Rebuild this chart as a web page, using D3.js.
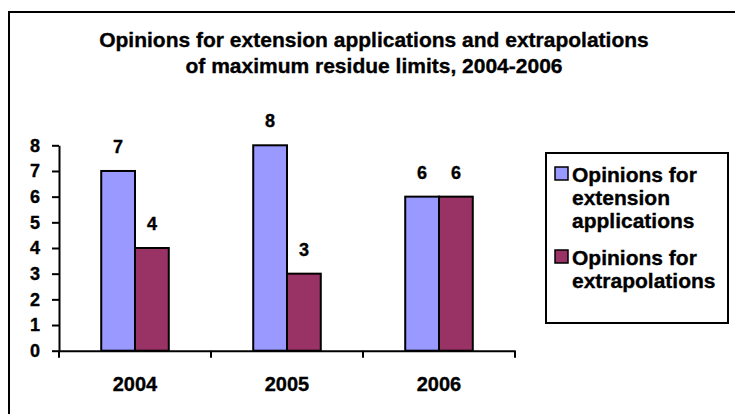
<!DOCTYPE html>
<html>
<head>
<meta charset="utf-8">
<script src="https://cdn.jsdelivr.net/npm/d3@7"></script>
<style>
  html, body { margin: 0; padding: 0; background: #fff; }
  svg { display: block; }
  text { font-family: "Liberation Sans", Arial, sans-serif; font-weight: bold; fill: #000; stroke: #000; stroke-width: 0.35px; }
</style>
</head>
<body>
<svg id="chart" width="735" height="414"></svg>
<script>
const categories = ["2004", "2005", "2006"];
const seriesNames = ["Opinions for extension applications", "Opinions for extrapolations"];
const extensionValues = [7, 8, 6];
const extrapolationValues = [4, 3, 6];
const yTicks = [0, 1, 2, 3, 4, 5, 6, 7, 8];
const titleLines = ["Opinions for extension applications and extrapolations", "of maximum residue limits, 2004-2006"];
const legendLines = [["Opinions for", "extension", "applications"], ["Opinions for", "extrapolations"]];
const colors = ["#9999FF", "#993366"];

const seriesValues = [extensionValues, extrapolationValues];
const data = categories.map((c, i) => ({ cat: c, vals: seriesValues.map((s, j) => ({ key: j, v: s[i] })) }));

const svg = d3.select("#chart");

// outer chart frame
svg.append("rect").attr("x", 9).attr("y", 12).attr("width", 800).attr("height", 500)
  .attr("fill", "#fff").attr("stroke", "#000").attr("stroke-width", 2);

// title
svg.append("g").selectAll("text").data(titleLines).join("text")
  .attr("x", 374).attr("y", (d, i) => 47 + i * 26)
  .attr("text-anchor", "middle").style("font-size", "21px")
  .text(d => d);

const x0 = 59, x1 = 515, yBase = 350.7, yTop = 145.3;
const x = d3.scaleBand().domain(categories).range([x0, x1]).paddingInner(0).paddingOuter(0);
const xs = d3.scaleBand().domain([0, 1]).range([0, x.bandwidth()]).paddingInner(0).paddingOuter(1.25);
const y = d3.scaleLinear().domain([0, 8]).range([yBase, yTop]);

// bars
const groups = svg.append("g").selectAll("g").data(data).join("g")
  .attr("transform", d => `translate(${x(d.cat)},0)`);
groups.selectAll("rect").data(d => d.vals).join("rect")
  .attr("x", d => xs(d.key)).attr("width", xs.bandwidth())
  .attr("y", d => y(d.v)).attr("height", d => y(0) - y(d.v))
  .attr("fill", d => colors[d.key]).attr("stroke", "#000").attr("stroke-width", 2);
groups.selectAll("text").data(d => d.vals).join("text")
  .attr("x", d => xs(d.key) + xs.bandwidth() / 2).attr("y", d => y(d.v) - 18)
  .attr("text-anchor", "middle").style("font-size", "18px")
  .text(d => d.v);

// y axis
const yAxis = svg.append("g").attr("transform", `translate(${x0},0)`)
  .call(d3.axisLeft(y).tickValues(yTicks).tickFormat(d3.format("d")).tickSizeOuter(0).tickSizeInner(7).tickPadding(12));
yAxis.selectAll("path, line").attr("stroke", "#000").attr("stroke-width", 2);
yAxis.selectAll("text").style("font-size", "18px").style("font-family", "Liberation Sans, Arial, sans-serif").attr("font-weight", "bold");

// x axis
const xAxis = svg.append("g").attr("transform", `translate(0,${yBase})`)
  .call(d3.axisBottom(x).tickSize(0).tickPadding(26).tickSizeOuter(0));
xAxis.select("path").attr("stroke", "#000").attr("stroke-width", 2);
xAxis.selectAll("text").style("font-size", "20px").style("font-family", "Liberation Sans, Arial, sans-serif").attr("font-weight", "bold");
// category boundary ticks
const bounds = categories.map(c => x(c)).concat([x(categories[categories.length - 1]) + x.bandwidth()]);
svg.append("g").selectAll("line").data(bounds).join("line")
  .attr("x1", d => d).attr("x2", d => d).attr("y1", yBase).attr("y2", yBase + 7)
  .attr("stroke", "#000").attr("stroke-width", 2);

// legend
const lg = svg.append("g");
lg.append("rect").attr("x", 546).attr("y", 153).attr("width", 182).attr("height", 170)
  .attr("fill", "#fff").attr("stroke", "#000").attr("stroke-width", 2);
const itemBaselines = [182, 265];
legendLines.forEach((lines, i) => {
  lg.append("rect").attr("x", 555).attr("y", itemBaselines[i] - 15).attr("width", 13).attr("height", 13)
    .attr("fill", colors[i]).attr("stroke", "#000").attr("stroke-width", 1.5);
  lg.append("g").selectAll("text").data(lines).join("text")
    .attr("x", 572).attr("y", (d, k) => itemBaselines[i] + k * 23)
    .style("font-size", "21px").text(d => d);
});
</script>
</body>
</html>
